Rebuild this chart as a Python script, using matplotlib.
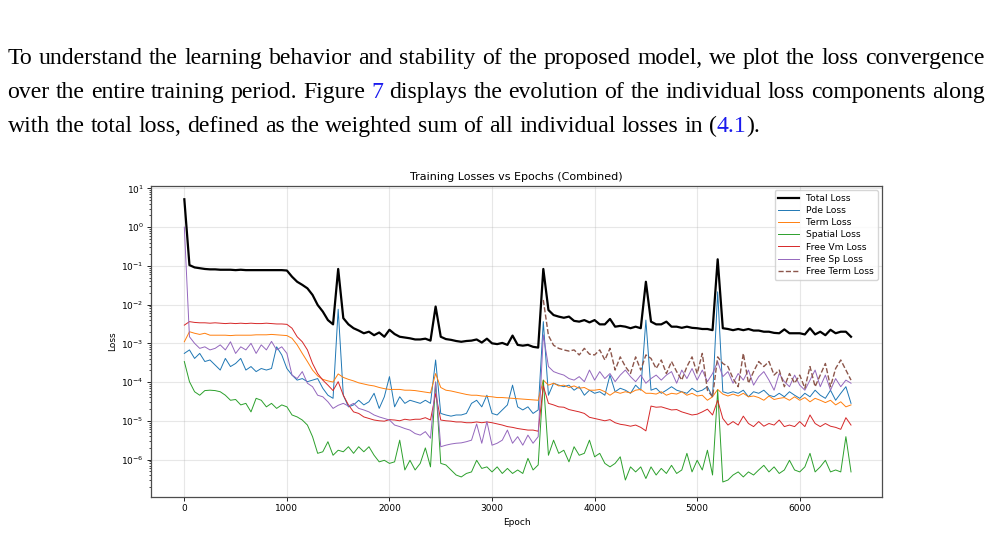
#!/usr/bin/env python3
# -*- coding: utf-8 -*-
import re
import numpy as np
import matplotlib
matplotlib.use("Agg")
import matplotlib.pyplot as plt
from matplotlib.ticker import NullFormatter

# ---------------- Data (log10 of each loss, read every 50 epochs) ----------------
EPOCHS = np.arange(0, 6501, 50)

TOTAL_LOG = [
    0.72, -0.98, -1.04, -1.06, -1.08, -1.09, -1.09, -1.10, -1.10, -1.10,   # 0
    -1.11, -1.10, -1.11, -1.11, -1.11, -1.11, -1.11, -1.11, -1.11, -1.11,  # 500
    -1.12, -1.28, -1.41, -1.49, -1.58, -1.75, -2.01, -2.18, -2.40, -2.51,  # 1000
    -1.08, -2.35, -2.51, -2.61, -2.67, -2.74, -2.70, -2.79, -2.72, -2.83,  # 1500
    -2.65, -2.76, -2.83, -2.85, -2.87, -2.90, -2.90, -2.88, -2.93, -2.05,  # 2000
    -2.83, -2.89, -2.91, -2.94, -2.96, -2.94, -2.93, -2.90, -2.98, -2.88,  # 2500
    -3.00, -3.02, -2.99, -3.04, -2.80, -3.04, -3.06, -3.04, -3.09, -3.11,  # 3000
    -1.08, -2.14, -2.27, -2.31, -2.34, -2.31, -2.42, -2.44, -2.40, -2.46,  # 3500
    -2.40, -2.51, -2.51, -2.37, -2.57, -2.55, -2.57, -2.61, -2.57, -2.61,  # 4000
    -1.41, -2.44, -2.51, -2.51, -2.44, -2.57, -2.57, -2.60, -2.57, -2.60,  # 4500
    -2.61, -2.63, -2.63, -2.66, -0.83, -2.61, -2.63, -2.66, -2.63, -2.66,  # 5000
    -2.63, -2.67, -2.67, -2.70, -2.70, -2.73, -2.74, -2.64, -2.74, -2.74,  # 5500
    -2.74, -2.77, -2.61, -2.77, -2.70, -2.79, -2.65, -2.74, -2.70, -2.70,  # 6000
    -2.83,
]

PDE_LOG = [
    -3.26, -3.17, -3.39, -3.26, -3.47, -3.43, -3.56, -3.69, -3.39, -3.60,
    -3.52, -3.39, -3.69, -3.60, -3.73, -3.65, -3.69, -3.65, -3.09, -3.30,
    -3.65, -3.82, -3.95, -3.91, -3.99, -3.95, -3.91, -4.16, -4.34, -4.42,
    -2.12, -4.34, -4.64, -4.59, -4.47, -4.59, -4.51, -4.29, -4.68, -4.38,
    -3.86, -4.64, -4.38, -4.55, -4.47, -4.51, -4.55, -4.47, -4.55, -3.43,
    -4.81, -4.85, -4.88, -4.85, -4.85, -4.81, -4.55, -4.47, -4.64, -4.34,
    -4.81, -4.85, -4.72, -4.59, -4.08, -4.64, -4.72, -4.64, -4.81, -4.72,
    -2.44, -4.34, -4.03, -4.08, -4.12, -4.08, -4.21, -4.12, -4.34, -4.21,
    -4.29, -4.25, -4.34, -3.82, -4.25, -4.16, -4.21, -4.29, -4.08, -4.21,
    -2.40, -4.21, -4.16, -4.29, -4.21, -4.12, -4.21, -4.25, -4.29, -4.16,
    -4.25, -4.21, -4.12, -4.38, -1.67, -4.25, -4.29, -4.25, -4.29, -4.21,
    -4.38, -4.25, -4.29, -4.21, -4.34, -4.38, -4.29, -4.38, -4.25, -4.34,
    -4.42, -4.29, -4.38, -4.21, -4.34, -4.42, -4.21, -4.47, -4.29, -4.12,
    -4.55,
]

TERM_LOG = [
    -2.96, -2.70, -2.74, -2.77, -2.74, -2.79, -2.79, -2.79, -2.79, -2.80,
    -2.79, -2.79, -2.79, -2.79, -2.78, -2.78, -2.78, -2.77, -2.78, -2.79,
    -2.80, -2.87, -3.04, -3.26, -3.47, -3.69, -3.84, -3.93, -3.97, -4.00,
    -3.79, -3.88, -3.93, -3.97, -4.02, -4.05, -4.08, -4.10, -4.14, -4.17,
    -4.19, -4.19, -4.19, -4.21, -4.21, -4.22, -4.24, -4.26, -4.28, -3.78,
    -4.14, -4.21, -4.23, -4.26, -4.29, -4.32, -4.34, -4.34, -4.36, -4.37,
    -4.38, -4.40, -4.40, -4.41, -4.42, -4.43, -4.44, -4.45, -4.46, -4.47,
    -3.95, -4.08, -4.03, -4.10, -4.08, -4.14, -4.10, -4.16, -4.14, -4.21,
    -4.21, -4.19, -4.25, -4.34, -4.25, -4.29, -4.25, -4.28, -4.21, -4.19,
    -4.29, -4.29, -4.31, -4.25, -4.34, -4.29, -4.31, -4.25, -4.34, -4.29,
    -4.36, -4.34, -4.47, -4.38, -4.19, -4.31, -4.36, -4.31, -4.36, -4.29,
    -4.38, -4.36, -4.40, -4.47, -4.36, -4.45, -4.42, -4.40, -4.47, -4.38,
    -4.47, -4.40, -4.51, -4.42, -4.47, -4.53, -4.47, -4.59, -4.51, -4.64,
    -4.59,
]

SPATIAL_LOG = [
    -3.47, -3.99, -4.25, -4.34, -4.22, -4.21, -4.22, -4.25, -4.34, -4.47,
    -4.45, -4.59, -4.55, -4.77, -4.42, -4.47, -4.64, -4.55, -4.68, -4.59,
    -4.64, -4.85, -4.90, -4.98, -5.11, -5.41, -5.84, -5.80, -5.54, -5.89,
    -5.76, -5.80, -5.67, -5.84, -5.67, -5.80, -5.67, -5.89, -6.06, -6.02,
    -6.10, -6.06, -5.50, -6.27, -6.02, -6.27, -6.10, -5.70, -6.19, -4.00,
    -6.10, -6.14, -6.27, -6.40, -6.45, -6.36, -6.32, -6.02, -6.23, -6.19,
    -6.32, -6.19, -6.36, -6.23, -6.36, -6.27, -6.36, -5.97, -6.27, -6.14,
    -3.95, -5.89, -5.50, -5.84, -5.76, -6.06, -5.67, -5.89, -5.84, -5.50,
    -5.93, -5.84, -6.10, -6.19, -6.10, -5.93, -6.53, -6.19, -6.32, -6.19,
    -6.49, -6.19, -6.40, -6.23, -6.36, -6.15, -6.36, -6.27, -5.84, -6.32,
    -6.02, -6.27, -5.76, -6.40, -4.21, -6.58, -6.53, -6.40, -6.32, -6.45,
    -6.32, -6.40, -6.27, -6.15, -6.32, -6.19, -6.36, -6.27, -6.02, -6.27,
    -6.32, -6.19, -5.84, -6.32, -6.19, -6.02, -6.32, -6.27, -6.32, -5.41,
    -6.32,
]

FREE_VM_LOG = [
    -2.53, -2.44, -2.46, -2.47, -2.47, -2.48, -2.47, -2.48, -2.49, -2.48,
    -2.49, -2.48, -2.49, -2.48, -2.49, -2.49, -2.48, -2.49, -2.50, -2.50,
    -2.51, -2.61, -2.83, -2.96, -3.17, -3.52, -3.78, -3.95, -4.08, -4.22,
    -3.99, -4.34, -4.59, -4.77, -4.81, -4.90, -4.94, -4.98, -5.00, -5.01,
    -4.97, -4.98, -5.00, -4.96, -4.98, -4.96, -4.96, -4.92, -4.98, -4.30,
    -4.98, -5.00, -5.01, -5.03, -5.03, -5.05, -5.05, -5.03, -5.05, -5.03,
    -5.05, -5.08, -5.11, -5.15, -5.17, -5.20, -5.22, -5.24, -5.24, -5.27,
    -4.10, -4.55, -4.59, -4.64, -4.65, -4.71, -4.74, -4.77, -4.81, -4.91,
    -4.94, -4.97, -5.00, -4.97, -5.05, -5.09, -5.11, -5.14, -5.11, -5.17,
    -5.26, -4.62, -4.65, -4.64, -4.68, -4.72, -4.71, -4.77, -4.81, -4.85,
    -4.83, -4.77, -4.70, -4.85, -4.47, -4.94, -5.11, -5.02, -5.11, -4.88,
    -5.07, -5.15, -5.02, -5.14, -5.07, -5.11, -4.98, -5.15, -5.11, -5.15,
    -5.02, -5.15, -4.85, -5.07, -5.15, -5.07, -5.14, -5.17, -5.22, -4.92,
    -5.11,
]

FREE_SP_LOG = [
    0.00, -2.83, -3.00, -3.13, -3.09, -3.17, -3.13, -3.04, -3.17, -2.96,
    -3.26, -3.09, -3.17, -3.00, -3.26, -3.04, -3.17, -2.95, -3.17, -3.09,
    -3.26, -3.82, -3.91, -3.73, -4.03, -4.12, -4.34, -4.38, -4.51, -4.68,
    -4.60, -4.55, -4.62, -4.55, -4.68, -4.72, -4.77, -4.85, -4.90, -4.94,
    -4.98, -5.11, -5.15, -5.20, -5.24, -5.33, -5.37, -5.28, -5.45, -4.00,
    -5.67, -5.63, -5.60, -5.58, -5.57, -5.54, -5.50, -5.08, -5.58, -5.02,
    -5.63, -5.58, -5.50, -5.24, -5.58, -5.41, -5.63, -5.37, -5.58, -5.41,
    -2.78, -3.60, -3.73, -3.78, -3.82, -3.91, -3.95, -3.86, -3.99, -3.69,
    -3.95, -3.73, -3.91, -3.78, -3.99, -3.82, -3.69, -3.86, -3.99, -3.82,
    -4.03, -3.91, -3.82, -3.95, -3.82, -3.73, -4.03, -3.69, -3.91, -3.65,
    -3.95, -3.69, -3.99, -3.78, -3.47, -3.86, -3.73, -4.03, -3.78, -3.95,
    -3.69, -4.08, -3.86, -3.73, -3.95, -4.21, -3.78, -3.99, -4.12, -3.82,
    -4.08, -4.21, -3.95, -3.69, -4.12, -3.82, -4.21, -3.91, -4.12, -3.95,
    -4.03,
]

# free terminal loss only exists from epoch 3500 on
FREE_TERM_START = 3500
FREE_TERM_LOG = [
    -1.88, -2.80, -3.05, -3.13, -3.17, -3.20, -3.17, -3.30, -3.13, -3.28,  # 3500
    -3.30, -3.17, -3.43, -3.13, -3.69, -3.35, -3.60, -3.78, -3.35, -3.69,  # 4000
    -3.30, -3.39, -3.65, -3.43, -3.78, -3.47, -3.73, -3.95, -3.60, -3.35,  # 4500
    -3.78, -3.26, -4.21, -4.38, -3.35, -3.52, -3.60, -3.91, -4.12, -3.26,  # 5000
    -4.03, -3.73, -3.47, -3.60, -3.47, -3.82, -3.69, -4.12, -3.78, -4.03,  # 5500
    -3.82, -4.16, -3.60, -4.12, -3.82, -3.52, -4.12, -3.65, -3.43, -3.69,  # 6000
    -3.95,
]

COMPONENTS = [
    ("Pde Loss", PDE_LOG),
    ("Term Loss", TERM_LOG),
    ("Spatial Loss", SPATIAL_LOG),
    ("Free Vm Loss", FREE_VM_LOG),
    ("Free Sp Loss", FREE_SP_LOG),
]

Y_DECADES = list(range(-6, 2))

# paragraph above the figure; {...} marks blue cross-reference links
PARA_LINES = [
    "To understand the learning behavior and stability of the proposed model, we plot the loss convergence",
    "over the entire training period. Figure {7} displays the evolution of the individual loss components along",
    "with the total loss, defined as the weighted sum of all individual losses in ({4.1}).",
]
PARA_JUSTIFY = [True, True, False]

# ---------------- Layout ----------------
W_PX, H_PX = 992, 533
TEXT_LEFT, TEXT_RIGHT = 7.5, 984.5
BASELINES = [64.0, 97.8, 131.6]
LAST_LINE_RIGHT = 761.5
SERIF = "Liberation Serif"
LINK_BLUE = "#1a1aee"


def text_width(fig, s, size):
    t = fig.text(0.5, 0.5, s, fontsize=size, family=SERIF)
    w = t.get_window_extent(fig.canvas.get_renderer()).width
    t.remove()
    return w


def split_segments(word):
    parts = re.split(r"(\{[^}]*\})", word)
    segs = []
    for p in parts:
        if not p:
            continue
        if p.startswith("{"):
            segs.append((p[1:-1], LINK_BLUE))
        else:
            segs.append((p, "black"))
    return segs


def draw_paragraph(fig):
    plain_last = PARA_LINES[2].replace("{", "").replace("}", "")
    size = 10.0 * (LAST_LINE_RIGHT - TEXT_LEFT) / text_width(fig, plain_last, 10.0)
    space = text_width(fig, "a a", size) - text_width(fig, "aa", size)
    for line, justify, base in zip(PARA_LINES, PARA_JUSTIFY, BASELINES):
        words = [split_segments(w) for w in line.split(" ")]
        seg_w = [[text_width(fig, s, size) for s, _ in w] for w in words]
        total = sum(sum(ws) for ws in seg_w)
        gap = (TEXT_RIGHT - TEXT_LEFT - total) / (len(words) - 1) if justify else space
        x = TEXT_LEFT
        for w, ws in zip(words, seg_w):
            for (s, col), sw in zip(w, ws):
                fig.text(x / W_PX, 1 - base / H_PX, s, fontsize=size, family=SERIF,
                         color=col, va="baseline", ha="left")
                x += sw
            x += gap


def main():
    for arr in [TOTAL_LOG] + [c[1] for c in COMPONENTS]:
        assert len(arr) == len(EPOCHS), len(arr)

    fig = plt.figure(figsize=(W_PX / 100, H_PX / 100), dpi=100)
    ax = fig.add_axes([151.3 / W_PX, 1 - 496.7 / H_PX, (882.3 - 151.3) / W_PX, (496.7 - 185.7) / H_PX])

    ax.plot(EPOCHS, 10 ** np.array(TOTAL_LOG), color="black", lw=1.6, label="Total Loss")
    for label, vals in COMPONENTS:
        ax.plot(EPOCHS, 10 ** np.array(vals), lw=0.7, label=label)
    ft_epochs = EPOCHS[EPOCHS >= FREE_TERM_START]
    ax.plot(ft_epochs, 10 ** np.array(FREE_TERM_LOG), ls="--", lw=1.0, color="C5",
            label="Free Term Loss")

    ax.set_yscale("log")
    ax.set_xlim(-322, 6805)
    ax.set_ylim(10 ** -6.96, 10 ** 1.07)
    ax.set_xticks(np.arange(0, 6001, 1000))
    ax.set_yticks([10.0 ** k for k in Y_DECADES])
    ax.yaxis.set_minor_formatter(NullFormatter())
    ax.grid(True, which="major", alpha=0.3)
    ax.tick_params(labelsize=6.5, length=3, width=0.6, pad=2.5)
    ax.tick_params(which="minor", length=1.8, width=0.5)
    for sp in ax.spines.values():
        sp.set_color("0.3")
        sp.set_linewidth(0.9)

    ax.set_title("Training Losses vs Epochs (Combined)", fontsize=8.0, pad=4)
    ax.set_xlabel("Epoch", fontsize=6.5, labelpad=3)
    ax.set_ylabel("Loss", fontsize=6.5, labelpad=3)
    ax.legend(loc="upper right", fontsize=6.55, borderaxespad=0.5,
              labelspacing=0.35, handlelength=2.3, handletextpad=0.8)

    draw_paragraph(fig)

    fig.savefig("out.png", dpi=100)
    plt.close(fig)


if __name__ == "__main__":
    main()
